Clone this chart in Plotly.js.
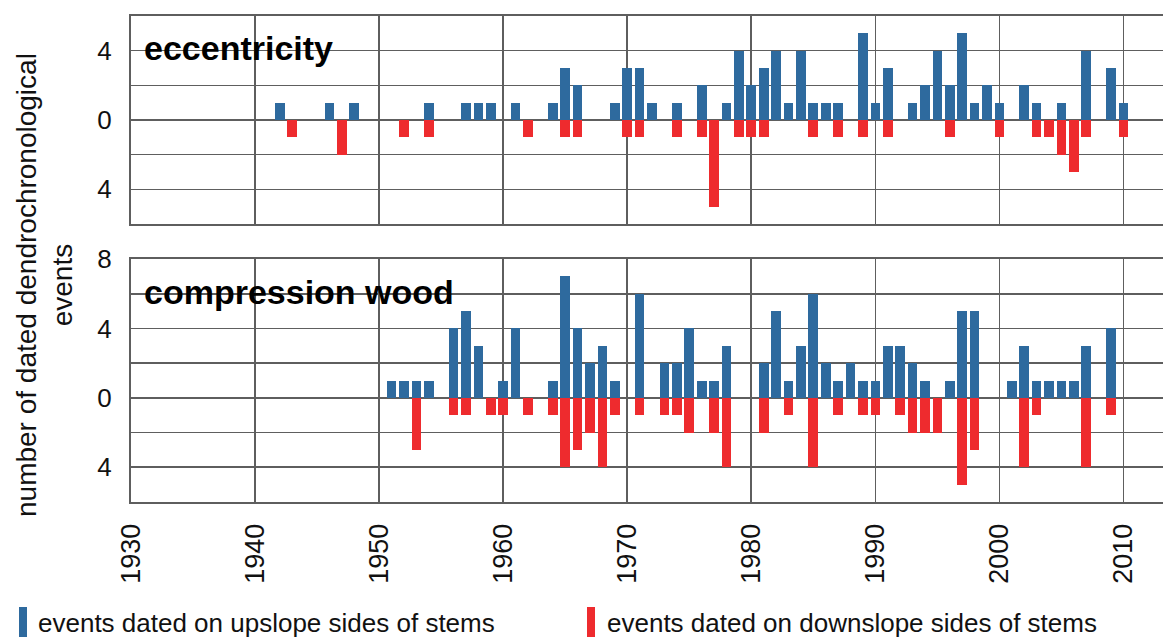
<!DOCTYPE html>
<html>
<head>
<meta charset="utf-8">
<script src="https://cdn.plot.ly/plotly-3.0.1.min.js"></script>
<style>html,body{margin:0;padding:0;background:#fff;}#chart{width:1163px;height:637px;}</style>
</head>
<body>
<div id="chart"></div>
<script>
// ---- data ----
const eccUpYears = [1942,1946,1948,1954,1957,1958,1959,1961,1964,1965,1966,1969,1970,1971,1972,1974,1976,1978,1979,1980,1981,1982,1983,1984,1985,1986,1987,1989,1990,1991,1993,1994,1995,1996,1997,1998,1999,2000,2002,2003,2005,2007,2009,2010];
const eccUp      = [1,1,1,1,1,1,1,1,1,3,2,1,3,3,1,1,2,1,4,2,3,4,1,4,1,1,1,5,1,3,1,2,4,2,5,1,2,1,2,1,1,4,3,1];
const eccDownYears = [1943,1947,1952,1954,1962,1965,1966,1970,1971,1974,1976,1977,1979,1980,1981,1985,1987,1989,1991,1996,2000,2003,2004,2005,2006,2007,2010];
const eccDown      = [-1,-2,-1,-1,-1,-1,-1,-1,-1,-1,-1,-5,-1,-1,-1,-1,-1,-1,-1,-1,-1,-1,-1,-2,-3,-1,-1];

const cwUpYears = [1951,1952,1953,1954,1956,1957,1958,1960,1961,1964,1965,1966,1967,1968,1969,1971,1973,1974,1975,1976,1977,1978,1981,1982,1983,1984,1985,1986,1987,1988,1989,1990,1991,1992,1993,1994,1996,1997,1998,2001,2002,2003,2004,2005,2006,2007,2009];
const cwUp      = [1,1,1,1,4,5,3,1,4,1,7,4,2,3,1,6,2,2,4,1,1,3,2,5,1,3,6,2,1,2,1,1,3,3,2,1,1,5,5,1,3,1,1,1,1,3,4];
const cwDownYears = [1953,1956,1957,1959,1960,1962,1964,1965,1966,1967,1968,1969,1971,1973,1974,1975,1977,1978,1981,1983,1985,1987,1989,1990,1992,1993,1994,1995,1997,1998,2002,2003,2007,2009];
const cwDown      = [-3,-1,-1,-1,-1,-1,-1,-4,-3,-2,-4,-1,-1,-1,-1,-2,-2,-4,-2,-1,-4,-1,-1,-1,-1,-2,-2,-2,-5,-3,-4,-1,-4,-1];

const seriesNames = ['events dated on upslope sides of stems', 'events dated on downslope sides of stems'];
const panelLabels = ['eccentricity', 'compression wood'];
const xTickVals = [1930,1940,1950,1960,1970,1980,1990,2000,2010];
const topTickVals = [-6,-4,-2,0,2,4,6];
const topTickText = ['','4','','0','','4',''];
const botTickVals = [-6,-4,-2,0,2,4,6,8];
const botTickText = ['','4','','0','','4','','8'];

// ---- styling ----
const W = 1163, H = 637;
const px = v => v / W;
const py = v => 1 - v / H;
const BLUE = '#2e6a9e', RED = '#ee2b2e';
const GRID = '#5e5e5e';
const FONT = 'Liberation Sans, Arial, Helvetica, sans-serif';
const BW = 0.78;

function bar(x, y, color, name, xa, ya) {
  return {type:'bar', x:x, y:y, name:name, xaxis:xa, yaxis:ya, width:BW,
          marker:{color:color, line:{width:0}}, showlegend:false, hoverinfo:'x+y'};
}

const traces = [
  bar(eccUpYears, eccUp, BLUE, seriesNames[0], 'x', 'y'),
  bar(eccDownYears, eccDown, RED, seriesNames[1], 'x', 'y'),
  bar(cwUpYears, cwUp, BLUE, seriesNames[0], 'x2', 'y2'),
  bar(cwDownYears, cwDown, RED, seriesNames[1], 'x2', 'y2')
];

const xRange = [1930, 1930 + (W - 131) / 12.406];

function xaxis(anchor, showLabels) {
  return {
    domain:[px(131), 1], range:xRange, anchor:anchor,
    tickvals:xTickVals, ticktext:xTickVals.map(String),
    showticklabels:showLabels, tickangle:-90,
    tickfont:{family:FONT, size:27, color:'#111'},
    ticks:'', ticklabelstandoff:9,
    showgrid:true, gridcolor:GRID, gridwidth:1.6,
    showline:true, linecolor:GRID, linewidth:2, mirror:true,
    zeroline:false, fixedrange:true
  };
}
function yaxis(anchor, dom, range, vals, text) {
  return {
    domain:dom, range:range, anchor:anchor,
    tickvals:vals, ticktext:text,
    tickfont:{family:FONT, size:26, color:'#111'},
    ticks:'', ticklabelstandoff:12,
    showgrid:true, gridcolor:GRID, gridwidth:1.6,
    zeroline:true, zerolinecolor:GRID, zerolinewidth:1.6,
    showline:true, linecolor:GRID, linewidth:2, mirror:false,
    fixedrange:true
  };
}

const layout = {
  width:W, height:H,
  margin:{l:0, r:0, t:0, b:0},
  paper_bgcolor:'#fff', plot_bgcolor:'#fff',
  barmode:'overlay', bargap:0,
  showlegend:false,
  font:{family:FONT, color:'#111'},
  xaxis: xaxis('y', false),
  yaxis: yaxis('x', [py(224), py(16)], [-6, 6], topTickVals, topTickText),
  xaxis2: xaxis('y2', true),
  yaxis2: yaxis('x2', [py(502), py(259)], [-6, 8], botTickVals, botTickText),
  annotations:[
    {text:'<b>'+panelLabels[0]+'</b>', xref:'paper', yref:'paper', x:px(142), y:py(48),
     xanchor:'left', yanchor:'middle', showarrow:false, font:{family:FONT, size:34, color:'#000'}},
    {text:'<b>'+panelLabels[1]+'</b>', xref:'paper', yref:'paper', x:px(142), y:py(292),
     xanchor:'left', yanchor:'middle', showarrow:false, font:{family:FONT, size:34, color:'#000'}},
    {text:'number of dated dendrochronological<br>events', xref:'paper', yref:'paper',
     x:px(45), y:py(285), xanchor:'center', yanchor:'middle', textangle:-90, showarrow:false,
     font:{family:FONT, size:28, color:'#111'}},
    {text:seriesNames[0], xref:'paper', yref:'paper', x:px(36), y:py(623),
     xanchor:'left', yanchor:'middle', showarrow:false, font:{family:FONT, size:26, color:'#111'}},
    {text:seriesNames[1], xref:'paper', yref:'paper', x:px(605), y:py(623),
     xanchor:'left', yanchor:'middle', showarrow:false, font:{family:FONT, size:26, color:'#111'}}
  ],
  shapes:[
    {type:'rect', xref:'paper', yref:'paper', x0:px(19), x1:px(27), y0:py(637), y1:py(607),
     fillcolor:BLUE, line:{width:0}},
    {type:'rect', xref:'paper', yref:'paper', x0:px(587), x1:px(595), y0:py(637), y1:py(607),
     fillcolor:RED, line:{width:0}}
  ]
};

Plotly.newPlot('chart', traces, layout, {staticPlot:true, displayModeBar:false});
</script>
</body>
</html>
